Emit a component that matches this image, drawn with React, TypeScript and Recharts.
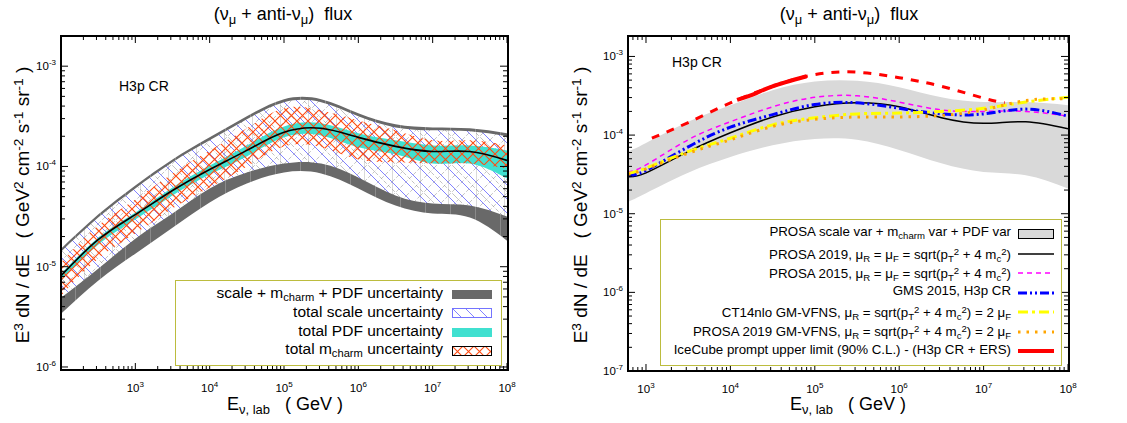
import React from "react";
import { ComposedChart, Area, Line, XAxis, YAxis } from "recharts";

const FONT = '"Liberation Sans", Arial, Helvetica, sans-serif';

// #region left panel: PROSA 2019 flux + uncertainty bands (GeV^2 cm^-2 s^-1 sr^-1)
const energyL = [1e2, 3.16e2, 1e3, 3.16e3, 1e4, 3.16e4, 1e5, 3.16e5, 1e6, 3.16e6, 1e7, 3.16e7, 1e8];
const centralL = [8.13e-6, 1.86e-5, 3.31e-5, 5.75e-5, 9.33e-5, 1.445e-4, 2.19e-4, 2.4e-4, 1.95e-4, 1.585e-4, 1.41e-4, 1.41e-4, 1.15e-4];
const totalHiL = [1.51e-5, 3.31e-5, 6.46e-5, 1.175e-4, 1.95e-4, 3.16e-4, 4.68e-4, 4.68e-4, 3.39e-4, 2.63e-4, 2.45e-4, 2.4e-4, 2.14e-4];
const totalLoL = [3.39e-6, 7.24e-6, 1.35e-5, 2.45e-5, 4.37e-5, 6.76e-5, 8.71e-5, 8.51e-5, 6.03e-5, 4.07e-5, 3.39e-5, 3.09e-5, 1.82e-5];
const scaleHiL = [1.41e-5, 3.09e-5, 6.03e-5, 1.1e-4, 1.82e-4, 2.95e-4, 4.37e-4, 4.37e-4, 3.16e-4, 2.45e-4, 2.29e-4, 2.24e-4, 2.0e-4];
const scaleLoL = [4.9e-6, 9.55e-6, 1.905e-5, 3.39e-5, 6.03e-5, 8.71e-5, 1.07e-4, 1.07e-4, 7.76e-5, 5.13e-5, 4.27e-5, 4.07e-5, 3.16e-5];
const pdfHiL = [8.51e-6, 1.95e-5, 3.47e-5, 6.17e-5, 1.02e-4, 1.62e-4, 2.51e-4, 2.69e-4, 2.14e-4, 1.82e-4, 1.62e-4, 1.62e-4, 1.445e-4];
const pdfLoL = [7.24e-6, 1.66e-5, 2.95e-5, 5.13e-5, 8.32e-5, 1.26e-4, 1.95e-4, 2.04e-4, 1.55e-4, 1.32e-4, 1.07e-4, 1.07e-4, 7.59e-5];
const mcHiL = [1.1e-5, 2.57e-5, 4.68e-5, 8.51e-5, 1.445e-4, 2.4e-4, 3.8e-4, 3.63e-4, 2.88e-4, 2.29e-4, 1.82e-4, 1.82e-4, 1.62e-4];
const mcLoL = [5.13e-6, 1.2e-5, 2.14e-5, 3.8e-5, 6.17e-5, 1.0e-4, 1.585e-4, 1.55e-4, 1.175e-4, 1.1e-4, 1.07e-4, 1.07e-4, 9.55e-5];
// #endregion

// #region right panel: model comparison
const energyR = [612, 1e3, 3.16e3, 1e4, 3.16e4, 1e5, 3.16e5, 1e6, 3.16e6, 1e7, 3.16e7, 1e8];
const bandHiR = [6.17e-5, 7.94e-5, 1.48e-4, 2.4e-4, 3.72e-4, 4.79e-4, 4.9e-4, 4.07e-4, 3.02e-4, 2.63e-4, 2.63e-4, 2.4e-4];
const bandLoR = [1.41e-5, 1.82e-5, 3.31e-5, 5.25e-5, 7.41e-5, 8.91e-5, 8.71e-5, 6.46e-5, 4.37e-5, 3.39e-5, 3.09e-5, 2.09e-5];
const prosa2019R = [2.95e-5, 3.31e-5, 6.17e-5, 1.07e-4, 1.7e-4, 2.29e-4, 2.57e-4, 2.29e-4, 1.66e-4, 1.41e-4, 1.48e-4, 1.2e-4];
const prosa2015R = [3.39e-5, 4.17e-5, 8.71e-5, 1.48e-4, 2.29e-4, 3.02e-4, 3.16e-4, 2.63e-4, 2.09e-4, 2.0e-4, 2.0e-4, 1.74e-4];
const gms2015R = [3.09e-5, 3.55e-5, 7.08e-5, 1.26e-4, 1.82e-4, 2.45e-4, 2.57e-4, 2.19e-4, 1.86e-4, 1.86e-4, 2.14e-4, 1.74e-4];
const ct14R = [3.24e-5, 3.8e-5, 6.17e-5, 9.12e-5, 1.35e-4, 1.66e-4, 1.86e-4, 1.905e-4, 2.0e-4, 2.19e-4, 2.63e-4, 3.02e-4];
const prosaVfnsR = [3.16e-5, 3.72e-5, 5.89e-5, 8.71e-5, 1.29e-4, 1.585e-4, 1.7e-4, 1.7e-4, 1.78e-4, 2.09e-4, 2.75e-4, 2.88e-4];
const iceEnergy = [1175, 3162, 1e4, 3.16e4, 1e5, 3.16e5, 1e6, 3.16e6, 1e7, 1.78e7];
const iceFlux = [9.12e-5, 1.445e-4, 2.57e-4, 4.17e-4, 5.89e-4, 6.31e-4, 5.37e-4, 4.17e-4, 2.95e-4, 2.57e-4];
const iceSolidEnergy = [1.2e4, 2e4, 3.16e4, 8e4];
const iceSolidFlux = [2.8e-4, 3.4e-4, 4.17e-4, 5.6e-4];
// #endregion

// tick decades
const energyDecades = [1e2, 1e3, 1e4, 1e5, 1e6, 1e7, 1e8];
const fluxDecades = [1e-7, 1e-6, 1e-5, 1e-4, 1e-3];

const X_DOMAIN_L: [number, number] = [1e2, 1e8];
const Y_DOMAIN_L: [number, number] = [9.33e-7, 2e-3];
const X_DOMAIN_R: [number, number] = [612, 1e8];
const Y_DOMAIN_R: [number, number] = [1e-7, 1.82e-3];

type Box = { left: number; right: number; top: number; bottom: number };
const BOX_L: Box = { left: 61, right: 507, top: 36, bottom: 370 };
const BOX_R: Box = { left: 68, right: 508, top: 36, bottom: 371 };

const isDecade = (v: number) => {
	const e = Math.log10(v);
	return Math.abs(e - Math.round(e)) < 1e-6;
};

// majors kept up to the domain edges, minors only strictly inside
const withMinors = (decades: number[], [lo, hi]: [number, number]) =>
	decades
		.flatMap((d) => [1, 2, 3, 4, 5, 6, 7, 8, 9].map((k) => d * k))
		.filter((v) => (isDecade(v) ? v >= lo * 0.999 && v <= hi * 1.001 : v > lo * 1.001 && v < hi * 0.999));

const makeXTick = (box: Box, lo: number) => (props: any) => {
	const { x, payload } = props;
	const v = payload.value as number;
	const major = isDecade(v);
	const len = major ? 7 : 4;
	return (
		<g>
			<line x1={x} x2={x} y1={box.bottom} y2={box.bottom - len} stroke="#000" />
			<line x1={x} x2={x} y1={box.top} y2={box.top + len} stroke="#000" />
			{major && v > lo * 1.001 && (
				<text x={x} y={box.bottom + 22} textAnchor="middle" fontFamily={FONT} fontSize={11.5} fill="#000">
					10
					<tspan dy={-5} fontSize={8}>
						{Math.round(Math.log10(v))}
					</tspan>
				</text>
			)}
		</g>
	);
};

const makeYTick = (box: Box) => (props: any) => {
	const { y, payload } = props;
	const v = payload.value as number;
	const major = isDecade(v);
	const len = major ? 7 : 4;
	return (
		<g>
			<line x1={box.left} x2={box.left + len} y1={y} y2={y} stroke="#000" />
			<line x1={box.right} x2={box.right - len} y1={y} y2={y} stroke="#000" />
			{major && (
				<text x={box.left - 5} y={y + 4} textAnchor="end" fontFamily={FONT} fontSize={11.5} fill="#000">
					10
					<tspan dy={-5} fontSize={8}>
						{Math.round(Math.log10(v))}
					</tspan>
				</text>
			)}
		</g>
	);
};

const leftRows = energyL.map((e, i) => ({
	e,
	total: [totalLoL[i], totalHiL[i]],
	scale: [scaleLoL[i], scaleHiL[i]],
	pdf: [pdfLoL[i], pdfHiL[i]],
	mc: [mcLoL[i], mcHiL[i]],
	central: centralL[i],
}));

const rightRows = energyR.map((e, i) => ({
	e,
	band: [bandLoR[i], bandHiR[i]],
	p2019: prosa2019R[i],
	p2015: prosa2015R[i],
	gms: gms2015R[i],
	ct14: ct14R[i],
	vfns: prosaVfnsR[i],
}));

const iceRows = iceEnergy.map((e, i) => ({ e, f: iceFlux[i] }));
const iceSolidRows = iceSolidEnergy.map((e, i) => ({ e, f: iceSolidFlux[i] }));

const Sub = ({ children }: { children: React.ReactNode }) => (
	<span style={{ fontSize: "0.72em", position: "relative", top: "0.3em" }}>{children}</span>
);
const Sup = ({ children }: { children: React.ReactNode }) => (
	<span style={{ fontSize: "0.72em", position: "relative", top: "-0.45em" }}>{children}</span>
);

const T = ({
	x,
	y,
	size,
	anchor = "start",
	rotate = false,
	children,
}: {
	x: number;
	y: number;
	size: number;
	anchor?: "start" | "middle" | "end";
	rotate?: boolean;
	children: React.ReactNode;
}) => {
	const tx = anchor === "middle" ? "-50%" : anchor === "end" ? "-100%" : "0";
	return (
		<div
			style={{
				position: "absolute",
				left: x,
				top: y,
				transform: `translate(${tx}, -50%)${rotate ? " rotate(-90deg)" : ""}`,
				fontSize: size,
				fontFamily: FONT,
				whiteSpace: "pre",
				lineHeight: 1,
				color: "#000",
			}}
		>
			{children}
		</div>
	);
};

const Sample = ({ x, y, w, h, children }: { x: number; y: number; w: number; h: number; children: React.ReactNode }) => (
	<svg style={{ position: "absolute", left: x, top: y - h / 2 }} width={w} height={h}>
		{children}
	</svg>
);

const Title = ({ x }: { x: number }) => (
	<T x={x} y={14} size={18} anchor="middle">
		(ν<Sub>μ</Sub> + anti-ν<Sub>μ</Sub>)  flux
	</T>
);

const YLabel = ({ x }: { x: number }) => (
	<T x={x} y={205} size={19} anchor="middle" rotate>
		E<Sup>3</Sup> dN / dE   ( GeV<Sup>2</Sup> cm<Sup>-2</Sup> s<Sup>-1</Sup> sr<Sup>-1</Sup> )
	</T>
);

const XLabel = ({ x }: { x: number }) => (
	<T x={x} y={404} size={18} anchor="middle">
		E<Sub>ν, lab</Sub>   ( GeV )
	</T>
);

const Defs = () => (
	<svg width={0} height={0} style={{ position: "absolute" }}>
		<defs>
			<pattern id="darkBand" patternUnits="userSpaceOnUse" width={25} height={25}>
				<rect width={25} height={25} fill="#696969" />
				<line x1={0.5} y1={0} x2={0.5} y2={25} stroke="#8a8a8a" />
			</pattern>
			<pattern id="scaleHatch" patternUnits="userSpaceOnUse" width={28} height={28}>
				<rect width={28} height={28} fill="#fff" />
				<line x1={0.5} y1={0} x2={0.5} y2={28} stroke="#dadada" />
				<path
					d="M0 28L28 0M0 14L14 0M14 28L28 14M7 0L28 21M0 21L7 28"
					stroke="#9a9a9a"
					strokeWidth={0.6}
					strokeDasharray="4 2"
				/>
				<path d="M0 0L28 28M14 0L28 14M0 14L14 28" stroke="#7474ff" strokeWidth={0.9} />
			</pattern>
			<pattern id="blueHatch" patternUnits="userSpaceOnUse" width={13} height={13}>
				<rect width={13} height={13} fill="#fff" />
				<path d="M0 0L13 13M-1 12L1 14M12 -1L14 1" stroke="#7474ff" strokeWidth={0.9} />
			</pattern>
			<pattern id="mcHatch" patternUnits="userSpaceOnUse" width={11} height={11}>
				<path d="M-1 -1L12 12M-1 12L12 -1" stroke="#ff4a10" strokeWidth={1.1} />
			</pattern>
		</defs>
	</svg>
);

const Frame = ({ left, top, width, height }: { left: number; top: number; width: number; height: number }) => (
	<div
		style={{
			position: "absolute",
			left,
			top,
			width,
			height,
			border: "2px solid #000",
			boxSizing: "border-box",
			pointerEvents: "none",
		}}
	/>
);

const LeftChart = () => (
	<div style={{ position: "absolute", left: 0, top: 0 }}>
		<ComposedChart width={560} height={423} data={leftRows} margin={{ top: 36, right: 53, bottom: 23, left: 21 }}>
			<XAxis
				dataKey="e"
				type="number"
				scale="log"
				domain={X_DOMAIN_L}
				ticks={withMinors(energyDecades, X_DOMAIN_L)}
				interval={0}
				tick={makeXTick(BOX_L, X_DOMAIN_L[0])}
				tickLine={false}
				axisLine={false}
				height={30}
				allowDataOverflow
			/>
			<YAxis
				type="number"
				scale="log"
				domain={Y_DOMAIN_L}
				ticks={withMinors(fluxDecades, Y_DOMAIN_L)}
				interval={0}
				tick={makeYTick(BOX_L)}
				tickLine={false}
				axisLine={false}
				width={40}
				allowDataOverflow
			/>
			<Area type="natural" dataKey="total" stroke="none" fill="url(#darkBand)" fillOpacity={1} dot={false} activeDot={false} isAnimationActive={false} />
			<Area type="natural" dataKey="scale" stroke="none" fill="url(#scaleHatch)" fillOpacity={1} dot={false} activeDot={false} isAnimationActive={false} />
			<Area type="natural" dataKey="pdf" stroke="none" fill="#40e0d0" fillOpacity={1} dot={false} activeDot={false} isAnimationActive={false} />
			<Area type="natural" dataKey="mc" stroke="none" fill="url(#mcHatch)" fillOpacity={1} dot={false} activeDot={false} isAnimationActive={false} />
			<Line type="natural" dataKey="central" stroke="#000" strokeWidth={1.6} dot={false} activeDot={false} isAnimationActive={false} />
		</ComposedChart>
	</div>
);

const RightChart = () => (
	<div style={{ position: "absolute", left: 560, top: 0 }}>
		<ComposedChart width={567} height={423} data={rightRows} margin={{ top: 36, right: 59, bottom: 22, left: 28 }}>
			<XAxis
				dataKey="e"
				type="number"
				scale="log"
				domain={X_DOMAIN_R}
				ticks={withMinors(energyDecades, X_DOMAIN_R)}
				interval={0}
				tick={makeXTick(BOX_R, X_DOMAIN_R[0])}
				tickLine={false}
				axisLine={false}
				height={30}
				allowDataOverflow
			/>
			<YAxis
				type="number"
				scale="log"
				domain={Y_DOMAIN_R}
				ticks={withMinors(fluxDecades, Y_DOMAIN_R)}
				interval={0}
				tick={makeYTick(BOX_R)}
				tickLine={false}
				axisLine={false}
				width={40}
				allowDataOverflow
			/>
			<Area type="natural" dataKey="band" stroke="none" fill="#d9d9d9" fillOpacity={1} dot={false} activeDot={false} isAnimationActive={false} />
			<Line type="natural" dataKey="p2019" stroke="#000" strokeWidth={1.5} dot={false} activeDot={false} isAnimationActive={false} />
			<Line type="natural" dataKey="p2015" stroke="#ff00ff" strokeWidth={1.5} strokeDasharray="5 4" dot={false} activeDot={false} isAnimationActive={false} />
			<Line type="natural" dataKey="gms" stroke="#0000ff" strokeWidth={3} strokeDasharray="9 3 2 3 2 3" dot={false} activeDot={false} isAnimationActive={false} />
			<Line type="natural" dataKey="ct14" stroke="#ffff00" strokeWidth={3} strokeDasharray="10 4 3 4" dot={false} activeDot={false} isAnimationActive={false} />
			<Line type="natural" dataKey="vfns" stroke="#ffa500" strokeWidth={3} strokeDasharray="2.5 6" dot={false} activeDot={false} isAnimationActive={false} />
			<Line data={iceRows} type="natural" dataKey="f" stroke="#ff0000" strokeWidth={3} strokeDasharray="8 8" dot={false} activeDot={false} isAnimationActive={false} />
			<Line data={iceSolidRows} type="natural" dataKey="f" stroke="#ff0000" strokeWidth={4} dot={false} activeDot={false} isAnimationActive={false} />
		</ComposedChart>
	</div>
);

const LEG_L = 15.5;
const LEG_R = 13.3;

const LeftLegend = () => (
	<>
		<div style={{ position: "absolute", left: 175, top: 280, width: 327, height: 86, border: "1.5px solid #bcbc3e", boxSizing: "border-box", background: "#fff" }} />
		<T x={443} y={293} size={LEG_L} anchor="end">
			scale + m<Sub>charm</Sub> + PDF uncertainty
		</T>
		<Sample x={452} y={294} w={40} h={9}>
			<rect width={40} height={9} fill="#696969" />
		</Sample>
		<T x={443} y={312} size={LEG_L} anchor="end">
			total scale uncertainty
		</T>
		<Sample x={452} y={313} w={40} h={10}>
			<rect x={0.5} y={0.5} width={39} height={9} fill="url(#blueHatch)" stroke="#7474ff" />
		</Sample>
		<T x={443} y={331} size={LEG_L} anchor="end">
			total PDF uncertainty
		</T>
		<Sample x={452} y={332} w={40} h={9}>
			<rect width={40} height={9} fill="#40e0d0" />
		</Sample>
		<T x={443} y={349} size={LEG_L} anchor="end">
			total m<Sub>charm</Sub> uncertainty
		</T>
		<Sample x={452} y={351} w={40} h={10}>
			<rect x={0.5} y={0.5} width={39} height={9} fill="#fff" />
			<rect x={0.5} y={0.5} width={39} height={9} fill="url(#mcHatch)" stroke="#000" />
		</Sample>
	</>
);

const RightLegend = () => (
	<>
		<div style={{ position: "absolute", left: 660, top: 219, width: 402, height: 147, border: "1.5px solid #bcbc3e", boxSizing: "border-box", background: "#fff" }} />
		<T x={1011} y={232} size={LEG_R} anchor="end">
			PROSA scale var + m<Sub>charm</Sub> var + PDF var
		</T>
		<Sample x={1018} y={234} w={36} h={10}>
			<rect x={0.5} y={0.5} width={35} height={9} fill="#d9d9d9" stroke="#000" />
		</Sample>
		<T x={1011} y={255} size={LEG_R} anchor="end">
			PROSA 2019, μ<Sub>R</Sub> = μ<Sub>F</Sub> = sqrt(p<Sub>T</Sub><Sup>2</Sup> + 4 m<Sub>c</Sub><Sup>2</Sup>)
		</T>
		<Sample x={1018} y={254} w={36} h={6}>
			<line x1={0} x2={36} y1={3} y2={3} stroke="#000" strokeWidth={1.5} />
		</Sample>
		<T x={1011} y={274} size={LEG_R} anchor="end">
			PROSA 2015, μ<Sub>R</Sub> = μ<Sub>F</Sub> = sqrt(p<Sub>T</Sub><Sup>2</Sup> + 4 m<Sub>c</Sub><Sup>2</Sup>)
		</T>
		<Sample x={1018} y={273} w={36} h={6}>
			<line x1={0} x2={36} y1={3} y2={3} stroke="#ff00ff" strokeWidth={1.5} strokeDasharray="5 4" />
		</Sample>
		<T x={1011} y={291} size={LEG_R} anchor="end">
			GMS 2015, H3p CR
		</T>
		<Sample x={1018} y={293} w={36} h={6}>
			<line x1={0} x2={36} y1={3} y2={3} stroke="#0000ff" strokeWidth={3} strokeDasharray="9 3 2 3 2 3" />
		</Sample>
		<T x={1011} y={313} size={LEG_R} anchor="end">
			CT14nlo GM-VFNS, μ<Sub>R</Sub> = sqrt(p<Sub>T</Sub><Sup>2</Sup> + 4 m<Sub>c</Sub><Sup>2</Sup>) = 2 μ<Sub>F</Sub>
		</T>
		<Sample x={1018} y={312} w={36} h={6}>
			<line x1={0} x2={36} y1={3} y2={3} stroke="#ffff00" strokeWidth={3} strokeDasharray="10 4 3 4" />
		</Sample>
		<T x={1011} y={332} size={LEG_R} anchor="end">
			PROSA 2019 GM-VFNS, μ<Sub>R</Sub> = sqrt(p<Sub>T</Sub><Sup>2</Sup> + 4 m<Sub>c</Sub><Sup>2</Sup>) = 2 μ<Sub>F</Sub>
		</T>
		<Sample x={1018} y={332} w={36} h={6}>
			<line x1={0} x2={36} y1={3} y2={3} stroke="#ffa500" strokeWidth={3} strokeDasharray="2.5 6" />
		</Sample>
		<T x={1011} y={350} size={LEG_R} anchor="end">
			IceCube prompt upper limit (90% C.L.) - (H3p CR + ERS)
		</T>
		<Sample x={1018} y={351} w={36} h={6}>
			<line x1={0} x2={36} y1={3} y2={3} stroke="#ff0000" strokeWidth={4} />
		</Sample>
	</>
);

const App = () => (
	<div style={{ position: "absolute", left: 0, top: 0, width: 1127, height: 423, background: "#fff", overflow: "hidden" }}>
		<Defs />
		<LeftChart />
		<RightChart />
		<Frame left={60} top={35} width={449} height={336} />
		<Frame left={627} top={35} width={443} height={337} />
		<Title x={283} />
		<Title x={849} />
		<YLabel x={22} />
		<YLabel x={580} />
		<XLabel x={285} />
		<XLabel x={848} />
		<T x={119} y={86} size={14}>
			H3p CR
		</T>
		<T x={672} y={62} size={14}>
			H3p CR
		</T>
		<LeftLegend />
		<RightLegend />
	</div>
);

export default App;
